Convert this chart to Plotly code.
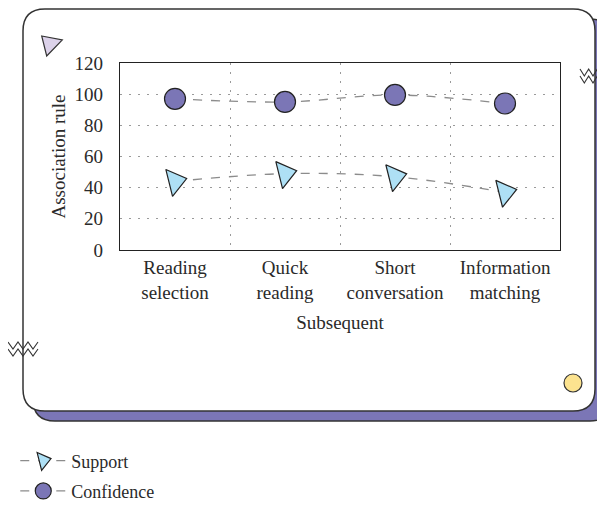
import plotly.graph_objects as go

categories = ["Reading<br>selection", "Quick<br>reading", "Short<br>conversation", "Information<br>matching"]
support = [44, 49, 47, 37]
confidence = [97, 95, 99.5, 94]
y_ticks = [0, 20, 40, 60, 80, 100, 120]

FONT = "Liberation Serif"
TXT = "#2a2a2a"

# page body adds an 8px offset; work in figure pixels
OFF = 8
L, R, T, B = 120 - OFF, 560 - OFF, 63 - OFF, 250 - OFF
def fx(x): return (x - OFF - L) / (R - L)
def fy(y): return (B - (y - OFF)) / (B - T)

def path(points, close=False):
    s = ""
    for i, (cmd, pts) in enumerate(points):
        s += cmd + " ".join(f"{fx(a):.5f},{fy(b):.5f}" for a, b in pts) + " "
    return s + ("Z" if close else "")

def rrect(x0, y0, x1, y1, r):
    return path([
        ("M", [(x0 + r, y0)]), ("L", [(x1 - r, y0)]), ("Q", [(x1, y0), (x1, y0 + r)]),
        ("L", [(x1, y1 - r)]), ("Q", [(x1, y1), (x1 - r, y1)]),
        ("L", [(x0 + r, y1)]), ("Q", [(x0, y1), (x0, y1 - r)]),
        ("L", [(x0, y0 + r)]), ("Q", [(x0, y0), (x0 + r, y0)]),
    ], close=True)

def zigzag(x0, x1, ytop, amp, n):
    step = (x1 - x0) / (2 * n)
    pts = [(x0 + i * step, ytop + (amp if i % 2 else 0)) for i in range(2 * n + 1)]
    return path([("M", [pts[0]])] + [("L", [p]) for p in pts[1:]])

fig = go.Figure()
fig.add_trace(go.Scatter(
    x=categories, y=support, name="Support", mode="lines+markers",
    line=dict(color="#8c8c8c", width=1.3, dash="dash", shape="spline"),
    marker=dict(symbol="triangle-right", size=24, angle=-14, color="#aee0f5",
                line=dict(color="#222222", width=1.2)),
    legendgroup="s",
))
fig.add_trace(go.Scatter(
    x=categories, y=confidence, name="Confidence", mode="lines+markers",
    line=dict(color="#8c8c8c", width=1.3, dash="dash", shape="spline"),
    marker=dict(symbol="circle", size=21, color="#7b76b6",
                line=dict(color="#222222", width=1.2)),
    legendgroup="c",
))

shapes = [
    dict(type="path", path=rrect(33, 19, 612, 421, 22), xref="paper", yref="paper",
         fillcolor="#7b76b6", line=dict(color="#333333", width=1.5), layer="below"),
    dict(type="path", path=rrect(23, 9, 595, 411, 22), xref="paper", yref="paper",
         fillcolor="white", line=dict(color="#333333", width=1.5), layer="below"),
    dict(type="path", path=path([("M", [(41.7, 36)]), ("L", [(62.3, 40)]), ("L", [(46.7, 56)])], close=True),
         xref="paper", yref="paper", fillcolor="#dcd2ea", line=dict(color="#333333", width=1.2)),
    dict(type="circle", xref="paper", yref="paper", x0=fx(564), x1=fx(582), y0=fy(392), y1=fy(374),
         fillcolor="#fce38f", line=dict(color="#333333", width=1.2)),
    dict(type="path", path=zigzag(580, 606, 69, 7, 3), xref="paper", yref="paper",
         line=dict(color="#333333", width=1.1)),
    dict(type="path", path=zigzag(580, 606, 76, 7, 3), xref="paper", yref="paper",
         line=dict(color="#333333", width=1.1)),
    dict(type="path", path=zigzag(8, 38, 342, 7, 3), xref="paper", yref="paper",
         line=dict(color="#333333", width=1.1)),
    dict(type="path", path=zigzag(8, 38, 349, 7, 3), xref="paper", yref="paper",
         line=dict(color="#333333", width=1.1)),
]

fig.update_layout(
    width=605, height=508,
    margin=dict(l=L, r=605 - R, t=T, b=508 - B, autoexpand=False),
    paper_bgcolor="white", plot_bgcolor="rgba(0,0,0,0)",
    font=dict(family=FONT, size=19, color=TXT),
    shapes=shapes,
    annotations=[dict(text="Association rule", xref="paper", yref="paper",
                      x=fx(58), y=0.5, xanchor="center", yanchor="middle",
                      textangle=-90, showarrow=False, font=dict(size=19, color=TXT))],
    showlegend=True,
    legend=dict(xref="container", yref="container", x=0.012, y=0.145, xanchor="left", yanchor="top",
                font=dict(family=FONT, size=18, color=TXT), tracegroupgap=4, itemwidth=46,
                bgcolor="rgba(0,0,0,0)"),
)
fig.update_xaxes(
    type="category", range=[-0.5, 3.5], tickson="boundaries", ticks="", tickangle=0,
    automargin=False,
    showgrid=True, gridcolor="#9a9a9a", griddash="2px,7px", gridwidth=1,
    showline=True, mirror=True, linecolor="#222222", linewidth=1.2,
    title=dict(text="Subsequent", font=dict(size=19), standoff=14),
    tickfont=dict(size=19),
)
fig.update_yaxes(
    range=[0, 120], tickvals=y_ticks, ticks="outside", ticklen=12, tickcolor="rgba(0,0,0,0)",
    zeroline=False, automargin=False,
    showgrid=True, gridcolor="#9a9a9a", griddash="2px,7px", gridwidth=1,
    showline=True, mirror=True, linecolor="#222222", linewidth=1.2,
    tickfont=dict(size=19),
)
fig.write_html("out.html")
